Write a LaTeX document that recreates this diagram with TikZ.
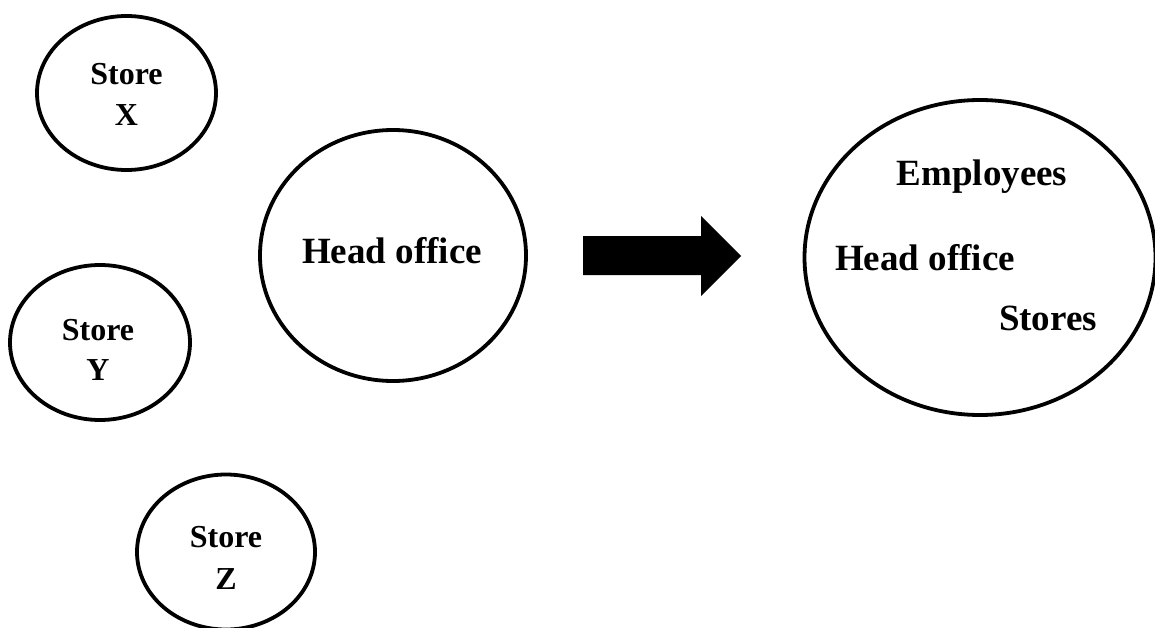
\documentclass[tikz,border=0pt]{standalone}
\usepackage{fontspec}
\setmainfont{Liberation Serif}
\usetikzlibrary{shapes.geometric}
\tikzset{
  oval/.style={draw=black, line width=3.8pt, ellipse, inner sep=0pt},
  bigtxt/.style={font=\fontsize{37}{44}\selectfont\bfseries, anchor=base, inner sep=0pt},
  smalltxt/.style={font=\fontsize{32}{38}\selectfont\bfseries, anchor=base, inner sep=0pt},
  blockarrow/.style={fill=black}
}
\begin{document}
\begin{tikzpicture}[x=1pt,y=-1pt]
\useasboundingbox (0,0) rectangle (1155,628);
\clip (0,0) rectangle (1155,628);
% left ovals
\node[oval, minimum width=179pt, minimum height=154pt] (sx) at (126.5,93) {};
\node[smalltxt] (sx1) at (126.5,85) {Store};
\node[smalltxt] (sx2) at (126.5,126) {X};
\node[oval, minimum width=180pt, minimum height=155pt] (sy) at (100,342.5) {};
\node[smalltxt] (sy1) at (98,340) {Store};
\node[smalltxt] (sy2) at (98,380) {Y};
\node[oval, minimum width=178pt, minimum height=155pt] (sz) at (226,552) {};
\node[smalltxt] (sz1) at (226,547) {Store};
\node[smalltxt] (sz2) at (226,589) {Z};
% head office
\node[oval, minimum width=266pt, minimum height=251pt] (ho) at (393,255.5) {};
\node[bigtxt] (hot) at (392,263) {Head office};
% block arrow
\fill[blockarrow] (583,236) -- (701,236) -- (701,216) -- (741,256) -- (701,296) -- (701,275) -- (583,275) -- cycle;
% right oval
\node[oval, minimum width=351pt, minimum height=315pt] (all) at (980,257.5) {};
\node[bigtxt] (emp) at (982,186) {Employees};
\node[bigtxt] (ho2) at (925,270) {Head office};
\node[bigtxt] (sto) at (1048,330) {Stores};
\end{tikzpicture}
\end{document}
